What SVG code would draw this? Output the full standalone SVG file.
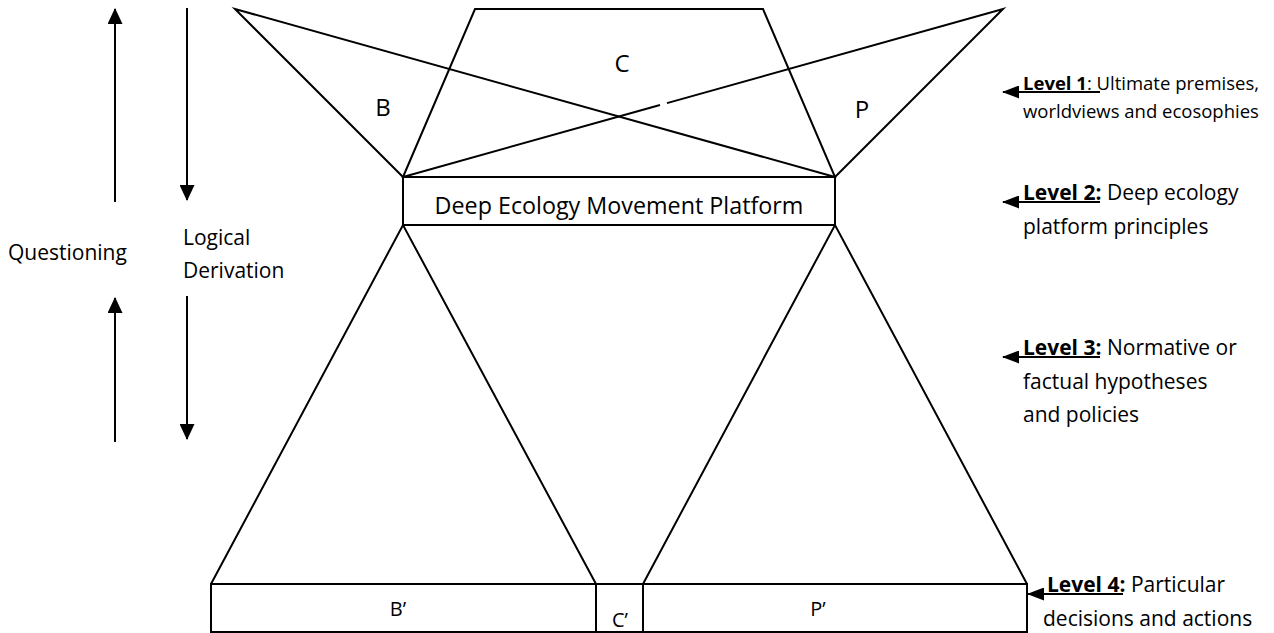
<svg xmlns="http://www.w3.org/2000/svg" width="1274" height="633" viewBox="0 0 1274 633">
<style>
.ln{fill:none;stroke:#000;stroke-width:2;stroke-linejoin:miter}
.t{font-family:"Open Sans","Liberation Sans",sans-serif;fill:#000}
.big{font-size:24px}
.mid{font-size:21px}
.sm{font-size:18.5px}
.pr{font-size:20px}
.b{font-weight:bold}
.ar{fill:none;stroke:#000;stroke-width:2}
</style>
<defs>
<marker id="hv" viewBox="0 0 16 15" refX="15" refY="7.5" markerWidth="16" markerHeight="15" markerUnits="userSpaceOnUse" orient="auto">
<path d="M0,0 L16,7.5 L0,15 z" fill="#000"/>
</marker>
<marker id="hh" viewBox="0 0 17 13" refX="16" refY="6.5" markerWidth="17" markerHeight="13" markerUnits="userSpaceOnUse" orient="auto">
<path d="M0,0 L17,6.5 L0,13 z" fill="#000"/>
</marker>
</defs>
<rect width="1274" height="633" fill="#fff"/>

<g id="triangle-B">
<polygon class="ln" points="403,177 235,9 835,177"/>
<text class="t big" x="383" y="116" text-anchor="middle">B</text>
</g>
<g id="triangle-P">
<path class="ln" d="M835,177 L1003,9 L667,103.1 M660,105 L403,177"/>
<text class="t big" x="862" y="118" text-anchor="middle">P</text>
</g>
<g id="trapezoid-C">
<polygon class="ln" points="403,177 475,9 763,9 835,177"/>
<text class="t big" x="622" y="72" text-anchor="middle">C</text>
</g>
<g id="platform">
<rect class="ln" x="403" y="177" width="432" height="48"/>
<text class="t" font-size="23.3" x="619" y="214" text-anchor="middle">Deep Ecology Movement Platform</text>
</g>
<g id="lower-left">
<polyline class="ln" points="211,584 403,225 596,584"/>
</g>
<g id="lower-right">
<polyline class="ln" points="643,584 835,225 1027,584"/>
</g>
<g id="box-B2">
<rect class="ln" x="211" y="584" width="385" height="48"/>
<text class="t pr" x="398" y="616" text-anchor="middle">B’</text>
</g>
<g id="box-C2">
<rect class="ln" x="596" y="584" width="47" height="48"/>
<text class="t pr" x="620" y="627" text-anchor="middle">C’</text>
</g>
<g id="box-P2">
<rect class="ln" x="643" y="584" width="384" height="48"/>
<text class="t pr" x="818" y="616" text-anchor="middle">P’</text>
</g>

<g id="left-labels">
<text class="t mid" x="8" y="260">Questioning</text>
<text class="t mid" x="183" y="245">Logical</text>
<text class="t mid" x="183" y="278">Derivation</text>
</g>

<g id="level-labels">
<text class="t sm" x="1023" y="90"><tspan class="b">Level 1</tspan>: Ultimate premises,</text>
<text class="t sm" x="1023" y="118">worldviews and ecosophies</text>
<text class="t mid" x="1023" y="200"><tspan class="b">Level 2:</tspan> Deep ecology</text>
<text class="t mid" x="1023" y="234">platform principles</text>
<text class="t mid" x="1023" y="355"><tspan class="b">Level 3:</tspan> Normative or</text>
<text class="t mid" x="1023" y="389">factual hypotheses</text>
<text class="t mid" x="1023" y="422">and policies</text>
<text class="t mid" x="1047" y="592"><tspan class="b">Level 4:</tspan> Particular</text>
<text class="t mid" x="1043" y="626">decisions and actions</text>
</g>

<g id="connectors">
<line class="ar" x1="115" y1="202" x2="115" y2="9" marker-end="url(#hv)"/>
<line class="ar" x1="187" y1="8" x2="187" y2="200" marker-end="url(#hv)"/>
<line class="ar" x1="115" y1="442" x2="115" y2="298" marker-end="url(#hv)"/>
<line class="ar" x1="187" y1="296" x2="187" y2="439" marker-end="url(#hv)"/>
<line class="ar" x1="1100" y1="92" x2="1003" y2="92" marker-end="url(#hh)"/>
<line class="ar" x1="1100" y1="202" x2="1003" y2="202" marker-end="url(#hh)"/>
<line class="ar" x1="1100" y1="357" x2="1003" y2="357" marker-end="url(#hh)"/>
<line class="ar" x1="1123" y1="594" x2="1028" y2="594" marker-end="url(#hh)"/>
</g>
</svg>
